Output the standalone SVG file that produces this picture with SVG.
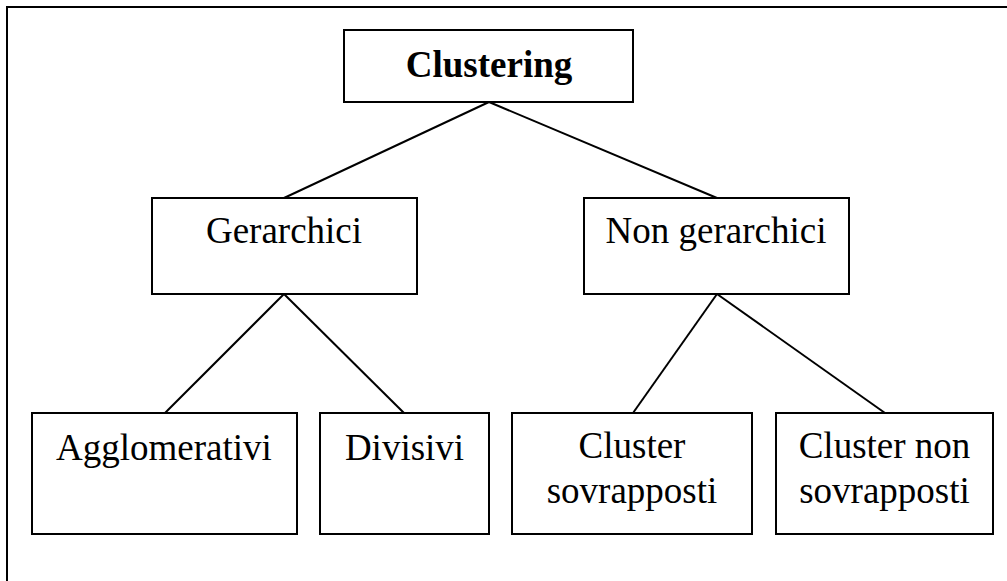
<svg xmlns="http://www.w3.org/2000/svg" width="1007" height="581" viewBox="0 0 1007 581">
<style>
.box{fill:#fff;stroke:#000;stroke-width:2}
.t{font-family:"Liberation Serif","Times New Roman",serif;font-size:37px;fill:#000;text-anchor:middle}
.b{font-weight:bold}
.c{stroke:#000;stroke-width:2;fill:none}
</style>
<rect x="0" y="0" width="1007" height="581" fill="#fff"/>
<rect x="7" y="7" width="1010" height="600" fill="none" stroke="#000" stroke-width="2"/>
<g id="connectors">
<line class="c" x1="489" y1="102" x2="284" y2="198"/>
<line class="c" x1="489" y1="102" x2="717" y2="198"/>
<line class="c" x1="284" y1="294" x2="165" y2="413"/>
<line class="c" x1="284" y1="294" x2="404" y2="413"/>
<line class="c" x1="717" y1="294" x2="633" y2="413"/>
<line class="c" x1="717" y1="294" x2="885" y2="413"/>
</g>
<g id="clustering">
<rect class="box" x="344" y="30" width="289" height="72"/>
<text class="t b" x="489" y="77">Clustering</text>
</g>
<g id="gerarchici">
<rect class="box" x="152" y="198" width="265" height="96"/>
<text class="t" x="284" y="243">Gerarchici</text>
</g>
<g id="non-gerarchici">
<rect class="box" x="584" y="198" width="265" height="96"/>
<text class="t" x="716" y="243">Non gerarchici</text>
</g>
<g id="agglomerativi">
<rect class="box" x="32" y="413" width="265" height="121"/>
<text class="t" x="164" y="460">Agglomerativi</text>
</g>
<g id="divisivi">
<rect class="box" x="320" y="413" width="169" height="121"/>
<text class="t" x="404.5" y="460">Divisivi</text>
</g>
<g id="cluster-sovrapposti">
<rect class="box" x="512" y="413" width="240" height="121"/>
<text class="t" x="632" y="458">Cluster</text>
<text class="t" x="632" y="502.5">sovrapposti</text>
</g>
<g id="cluster-non-sovrapposti">
<rect class="box" x="776" y="413" width="217" height="121"/>
<text class="t" x="884.5" y="458">Cluster non</text>
<text class="t" x="884.5" y="502.5">sovrapposti</text>
</g>
</svg>
